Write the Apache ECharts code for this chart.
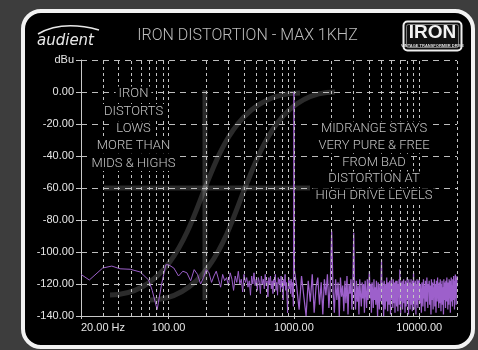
<!DOCTYPE html>
<html><head><meta charset="utf-8">
<script src="https://cdn.jsdelivr.net/npm/echarts@6/dist/echarts.min.js"></script>
<style>html,body{margin:0;padding:0;background:#3d3d3d}#c{width:478px;height:350px}</style>
</head><body><div id="c"></div><script>
// ---- data: spectrum levels in dBu ----
// low band read point by point: [frequency Hz, level dBu]
const lowBand = [[20,-114],[23.3,-117.5],[29.8,-110],[35.2,-108.8],[41,-110.5],[49.4,-110.8],[59.4,-112.5],[69.3,-117.5],[74,-124],[81,-136],[88,-120],[95,-108]];
// mid band: analyser bins every 10 Hz from 100 Hz
const midStartHz = 100, midStepHz = 10;
const midDb = [
  -108,-110,-115,-112,-113,-118,-111,-114,-120,-116,
  -111,-113,-119,-115,-112,-117,-122,-114,-118,-116,
  -121,-113,-117,-124,-115,-119,-112,-120,-117,-125,
  -114,-119,-116,-122,-118,-127,-115,-120,-113,-121,
  -117,-124,-116,-119,-126,-115,-120,-117,-123,-114,
  -121,-118,-128,-116,-120,-115,-123,-118,-126,-117,
  -121,-114,-124,-119,-127,-116,-120,-117,-125,-115,
  -122,-118,-130,-117,-121,-114,-124,-119,-128,-138,
  -121,-116,-123,-118,-126,-117,-122,-128,-119,-134];
// 1 kHz test tone
const fundamental = [[1000,0],[1010,-112]];
// high band A: bins every 50 Hz from 1050 Hz (harmonics at 2k, 3k, 4k, 5k, 7k, 9k)
const hfAStartHz = 1050, hfAStepHz = 50;
const hfADb = [
  -121,-136,-115,-128,-140,-118,-131,-114,-138,-122,-116,-133,-119,-139,-117,-127,-114,-135,-120,
  -87,-124,-138,-117,-130,-119,-140,-116,-128,-121,-137,-118,-132,-115,-139,-120,-126,-117,-136,-122,
  -88,-125,-136,-118,-131,-121,-139,-117,-127,-134,-119,-129,-120,-138,-118,-126,-135,-117,-130,-122,
  -112,-129,-120,-138,-119,-126,-135,-117,-130,-122,-133,-118,-128,-140,-119,-125,-136,-120,-131,-117,
  -105,-133,-119,-128,-140,-118,-125,-136,-120,-131,-116,-127,-137,-119,-124,-133,-118,-129,-139,-121,
  -116,-130,-120,-135,-117,-126,-132,-119,-138,-122,-118,-129,-134,-118,-125,-137,-120,-128,-117,-133,
  -111,-127,-139,-119,-124,-131,-118,-136,-121,-126,-117,-132,-120,-128,-138,-118,-125,-134,-119,-129,
  -116,-130,-121,-127,-139,-117,-125,-130,-119,-136,-122,-128,-117,-133,-120,-126,-137,-118,-124,-131,
  -113,-128,-136,-119,-124,-131,-118,-127,-139,-120,-125,-133,-117,-129,-121,-135,-118,-126,-130,-119];
// high band B: bins every 100 Hz from 10 kHz
const hfBStartHz = 10000, hfBStepHz = 100;
const hfBDb = [
  -117,-132,-120,-128,-138,-119,-125,-134,-117,-129,
  -121,-137,-118,-126,-131,-116,-128,-135,-120,-124,
  -118,-133,-121,-127,-139,-117,-125,-130,-119,-136,
  -122,-128,-117,-134,-120,-126,-138,-118,-124,-131,
  -116,-129,-121,-135,-119,-127,-132,-117,-125,-137,
  -120,-128,-118,-133,-122,-126,-139,-117,-124,-130,
  -119,-127,-135,-118,-123,-131,-116,-128,-121,-136,
  -119,-126,-133,-117,-124,-129,-118,-138,-120,-125,
  -116,-131,-121,-127,-134,-117,-123,-130,-115,-128,
  -120,-136,-118,-124,-114,-129,-119,-133,-116,-122,
  -115];
const gridHz = [30,40,50,60,70,80,90,100,200,300,400,500,600,700,800,900,1000,2000,3000,4000,5000,6000,7000,8000,9000,10000,20000];
const xMinHz = 20, xMaxHz = 20000;
const yMin = -140, yMax = 20, yStep = 20;
const titleText = 'IRON DISTORTION - MAX 1KHZ';
const leftNote = ['IRON','DISTORTS','LOWS','MORE THAN','MIDS & HIGHS'];
const rightNote = ['MIDRANGE STAYS','VERY PURE & FREE','FROM BAD','DISTORTION AT','HIGH DRIVE LEVELS'];

// ---- rendering ----
const bins = (start, step, list) => list.map((db, i) => [start + i * step, db]);
const lowerSpectrum = [...lowBand, ...bins(midStartHz, midStepHz, midDb), ...fundamental];
const upperSpectrum = [fundamental[fundamental.length - 1],
  ...bins(hfAStartHz, hfAStepHz, hfADb), ...bins(hfBStartHz, hfBStepHz, hfBDb)];

const thinFont = "Roboto, 'Lato Light', Lato, sans-serif";
function noteLines(lines, cx, y0, dy) {
  return lines.map((t, i) => ({
    type: 'text', z: 10, silent: true,
    style: { text: t, x: cx, y: y0 + i * dy, align: 'center', verticalAlign: 'middle', textAlign: 'center', textVerticalAlign: 'middle',
      fill: '#c4c4c4', fontSize: 13, fontFamily: thinFont, fontWeight: 300, backgroundColor: '#000', padding: [1, 3] }
  }));
}
const deco = 'rgba(255,255,255,0.17)';
const purple = '#9d60cb';
const chart = echarts.init(document.getElementById('c'), null, { renderer: 'canvas' });
chart.setOption({
  backgroundColor: '#3d3d3d',
  animation: false,
  grid: { left: 81, top: 60, width: 376, height: 256, containLabel: false },
  xAxis: {
    type: 'log', logBase: 10, min: xMinHz, max: xMaxHz,
    axisLine: { show: true, onZero: false, lineStyle: { color: '#c8c8c8', width: 1 } },
    axisTick: { show: true, length: 3, lineStyle: { color: '#c8c8c8' } },
    axisLabel: { color: '#e6e6e6', fontSize: 11, fontFamily: 'Liberation Sans, Arial', margin: 6,
      showMaxLabel: false, alignMinLabel: 'left',
      formatter: v => Math.abs(v - xMinHz) < 0.5 ? v.toFixed(2) + ' Hz' : v.toFixed(2) },
    splitLine: { show: false }
  },
  yAxis: {
    type: 'value', min: yMin, max: yMax, interval: yStep,
    axisLine: { show: true, onZero: false, lineStyle: { color: '#c8c8c8', width: 1 } },
    axisTick: { show: true, length: 5, lineStyle: { color: '#c8c8c8' } },
    axisLabel: { color: '#e6e6e6', fontSize: 11, fontFamily: 'Liberation Sans, Arial', margin: 7,
      formatter: v => v === yMax ? 'dBu' : v.toFixed(2) },
    splitLine: { show: true, lineStyle: { color: '#bdbdbd', width: 1, type: [6, 5] } }
  },
  series: [
    { type: 'line', data: [], z: 1, silent: true,
      markLine: { silent: true, symbol: ['none', 'none'], label: { show: false }, animation: false,
        lineStyle: { type: [3, 3], color: '#c4c4c4', width: 1 },
        data: gridHz.map(f => ({ xAxis: f })) } },
    { type: 'line', z: 3, silent: true, showSymbol: false, symbol: 'none', sampling: null,
      lineStyle: { color: purple, width: 1 }, data: lowerSpectrum },
    { type: 'line', z: 3, silent: true, showSymbol: false, symbol: 'none', sampling: null,
      lineStyle: { color: purple, width: 1.25 }, data: upperSpectrum }
  ],
  graphic: [
    { type: 'rect', z: -10, silent: true, shape: { x: 23, y: 11, width: 450, height: 336, r: 18 },
      style: { fill: '#000', stroke: '#f2f2f2', lineWidth: 4 } },
    // faint transfer-curve artwork behind the plot
    { type: 'line', z: -5, silent: true, shape: { x1: 104, y1: 188, x2: 310, y2: 188 }, style: { stroke: deco, lineWidth: 5 } },
    { type: 'line', z: -5, silent: true, shape: { x1: 205, y1: 90, x2: 205, y2: 300 }, style: { stroke: deco, lineWidth: 5 } },
    { type: 'bezierCurve', z: -5, silent: true, shape: { x1: 110, y1: 295, x2: 205, y2: 188, cpx1: 170, cpy1: 295, cpx2: 190, cpy2: 225 }, style: { stroke: deco, lineWidth: 5, fill: null } },
    { type: 'bezierCurve', z: -5, silent: true, shape: { x1: 205, y1: 188, x2: 300, y2: 93, cpx1: 220, cpy1: 151, cpx2: 240, cpy2: 93 }, style: { stroke: deco, lineWidth: 5, fill: null } },
    { type: 'bezierCurve', z: -5, silent: true, shape: { x1: 150, y1: 300, x2: 245, y2: 188, cpx1: 210, cpy1: 300, cpx2: 230, cpy2: 225 }, style: { stroke: deco, lineWidth: 5, fill: null } },
    { type: 'bezierCurve', z: -5, silent: true, shape: { x1: 245, y1: 188, x2: 335, y2: 92, cpx1: 260, cpy1: 151, cpx2: 280, cpy2: 92 }, style: { stroke: deco, lineWidth: 5, fill: null } },
    // header
    { type: 'text', z: 10, silent: true, style: { text: titleText, x: 247.5, y: 36, align: 'center', verticalAlign: 'middle', textAlign: 'center', textVerticalAlign: 'middle',
      fill: '#bdbdbd', fontSize: 16, fontFamily: thinFont, fontWeight: 300 } },
    { type: 'bezierCurve', z: 10, silent: true, shape: { x1: 38, y1: 34, x2: 99, y2: 30, cpx1: 62, cpy1: 20 }, style: { stroke: '#e8e8e8', lineWidth: 1.5, fill: null } },
    { type: 'text', z: 10, silent: true, style: { text: 'audient', x: 37, y: 41, align: 'left', verticalAlign: 'middle', textAlign: 'left', textVerticalAlign: 'middle',
      fill: '#e8e8e8', fontSize: 15, fontFamily: 'DejaVu Sans', fontStyle: 'italic' } },
    { type: 'rect', z: 10, silent: true, shape: { x: 403.5, y: 21.5, width: 58, height: 29, r: 4 }, style: { fill: '#111', stroke: '#eeeeee', lineWidth: 2 } },
    { type: 'rect', z: 10, silent: true, shape: { x: 406.5, y: 24.5, width: 52, height: 23, r: 2 }, style: { fill: null, stroke: '#9a9a9a', lineWidth: 0.8 } },
    { type: 'text', z: 11, silent: true, style: { text: 'IRON', x: 432.5, y: 33, align: 'center', verticalAlign: 'middle', textAlign: 'center', textVerticalAlign: 'middle',
      fill: '#f2f2f2', fontSize: 19, fontWeight: 'bold', fontFamily: "'Liberation Sans', Arial, sans-serif" } },
    { type: 'text', z: 11, silent: true, style: { text: 'VINTAGE TRANSFORMER DRIVE', x: 432.5, y: 45.5, align: 'center', verticalAlign: 'middle', textAlign: 'center', textVerticalAlign: 'middle',
      fill: '#dddddd', fontSize: 4, fontWeight: 'bold', fontFamily: "'Liberation Sans', sans-serif" } },
    ...noteLines(leftNote, 133.5, 94, 17.4),
    ...noteLines(rightNote, 374, 129, 16.7)
  ]
});
</script></body></html>
